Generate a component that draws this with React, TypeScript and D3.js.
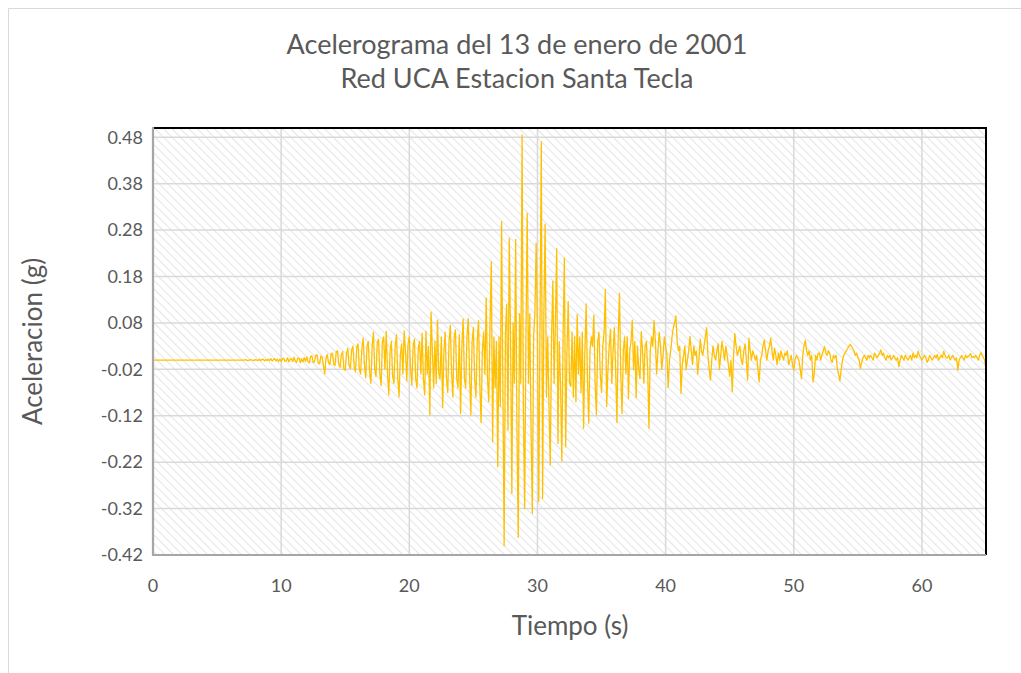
import * as d3 from "d3";

// sampling interval of the record (s)
const dt = 0.1;

// acceleration (g), one value every dt seconds from t = 0 to 65 s (one row per second)
const accel: number[] = [
  0, 0, 0, 0, 0, 0, 0, 0, 0, 0,
  0, 0, 0, 0, 0, 0, 0, 0, 0, 0,
  0, 0, 0, 0, 0, 0, 0, 0, 0, 0,
  0, 0, 0, 0, 0, 0, 0, 0, 0, 0,
  0, 0, 0, 0, 0, 0, 0, 0, 0, 0,
  0, 0, 0, 0, 0, 0, 0, 0, 0, 0,
  0, 0, 0, 0, 0, 0, 0, 0, 0, 0,
  0, 0, 0.001, 0, -0.001, 0, 0.001, 0, 0, -0.001,
  0.001, 0, -0.001, 0.002, -0.001, 0.001, 0.002, -0.002, 0.001, -0.001,
  0.002, -0.001, 0.003, -0.002, 0.001, 0.003, -0.002, 0.002, -0.003, 0.002,
  -0.003, 0.002, 0.004, -0.003, -0.002, 0.005, -0.004, 0.002, 0.003, -0.003,
  0.006, -0.002, -0.005, 0.004, 0.004, -0.006, 0.003, -0.004, 0.005, -0.003,
  0.007, -0.004, -0.006, 0.008, 0.009, -0.005, -0.004, 0.01, 0.011, -0.007,
  -0.008, 0.009, 0.006, -0.012, -0.03, 0.004, 0.012, -0.006, -0.01, 0.014,
  0.015, -0.008, -0.012, 0.018, 0.02, -0.01, -0.016, 0.012, 0.018, -0.02,
  -0.022, 0.015, 0.025, -0.012, -0.018, 0.022, 0.03, -0.015, -0.025, 0.028,
  0.035, -0.02, -0.03, 0.025, 0.047, -0.01, -0.038, 0.03, 0.04, -0.025,
  -0.05, 0.03, 0.06, -0.02, -0.035, 0.038, 0.045, -0.03, -0.055, 0.04,
  0.05, -0.02, 0.062, -0.03, -0.075, 0.02, 0.04, -0.035, -0.05, 0.03,
  0.055, -0.04, -0.079, 0.01, 0.035, -0.03, 0.063, 0.02, -0.045, 0.035,
  0.05, -0.02, -0.054, 0.03, 0.045, -0.04, -0.06, 0.025, 0.04, -0.03,
  0.058, -0.04, -0.075, 0.062, -0.03, 0.03, -0.118, 0.103, 0.02, -0.06,
  0.04, -0.05, 0.086, -0.03, -0.04, 0.05, -0.102, 0.02, 0.06, -0.04,
  -0.07, 0.04, 0.075, -0.03, -0.08, 0.05, 0.065, -0.04, -0.06, 0.055,
  -0.115, 0.03, 0.088, -0.04, -0.06, 0.05, 0.09, -0.03, -0.118, 0.04,
  0.07, -0.04, -0.08, 0.04, 0.085, -0.05, -0.135, 0.02, 0.06, -0.03,
  0.134, -0.04, -0.09, 0.08, 0.212, -0.176, 0.05, -0.06, 0.04, -0.23,
  0.05, -0.1, 0.298, -0.05, -0.4, 0.06, 0.12, -0.15, 0.262, 0.05,
  -0.287, 0.08, -0.05, 0.26, -0.15, -0.382, 0.1, -0.05, 0.485, -0.1,
  -0.32, 0.05, 0.316, -0.05, 0.1, -0.15, -0.33, 0.05, 0.1, 0.252,
  0.05, -0.305, 0.08, 0.47, -0.298, 0.1, 0.293, -0.08, 0.05, -0.1,
  -0.226, 0.05, 0.17, -0.05, 0.08, 0.24, -0.18, 0.04, -0.05, -0.217,
  0.05, 0.22, -0.187, 0.02, 0.126, -0.05, -0.057, 0.06, -0.08, 0.05,
  -0.09, 0.098, -0.03, 0.05, -0.07, 0.06, -0.147, 0.02, 0.121, -0.04,
  -0.136, 0.02, 0.05, 0.03, 0.097, -0.05, -0.118, 0.04, 0.06, -0.03,
  -0.07, 0.03, 0.06, 0.152, -0.1, -0.02, 0.03, 0.066, -0.05, 0.02,
  0.07, -0.02, -0.135, 0.05, 0.144, -0.03, -0.115, 0.02, 0.05, -0.03,
  0.05, -0.083, 0.02, 0.04, 0.086, -0.02, 0.04, -0.081, 0.03, -0.02,
  -0.04, 0.061, 0.02, -0.05, 0.03, 0.04, -0.02, -0.147, 0.02, 0.05,
  0.03, 0.085, 0.04, -0.03, 0.02, 0.06, 0.03, -0.02, 0.01, 0.05,
  0.03, 0.01, -0.059, 0.0, 0.02, 0.05, 0.07, 0.08, 0.095, 0.04,
  0.02, 0.03, -0.072, -0.01, 0.01, 0.03, -0.02, 0.0, 0.02, 0.051,
  0.02, -0.01, 0.03, 0.01, 0.02, -0.03, 0.0, 0.045, 0.02, 0.01,
  0.03, 0.05, 0.07, 0.01, -0.02, -0.043, 0.0, 0.03, 0.01, 0.0,
  0.02, 0.035, -0.02, 0.01, 0.04, 0.02, 0.0, 0.03, 0.01, -0.01,
  -0.035, 0.0, -0.068, 0.01, 0.057, 0.03, 0.01, 0.02, 0.03, 0.0,
  -0.01, 0.02, 0.035, 0.0, -0.043, 0.047, 0.02, 0.0, 0.02, 0.01,
  0.0, 0.01, -0.02, -0.047, 0.0, 0.01, 0.03, 0.043, 0.02, 0.0,
  0.02, 0.03, 0.047, 0.02, 0.0, 0.025, 0.01, -0.01, 0.015, 0.0,
  0.02, 0.01, 0.0, 0.015, 0.01, 0.02, -0.01, 0.0, 0.01, -0.01,
  -0.022, 0.0, 0.01, 0.005, 0.0, -0.02, -0.04, 0.01, 0.03, 0.043,
  0.02, 0.01, 0.02, 0.0, 0.01, -0.047, -0.03, 0.01, 0.0, 0.015,
  0.015, 0.0, 0.01, 0.02, 0.029, 0.015, 0.01, 0.02, 0.015, 0.0,
  -0.005, 0.01, 0.005, 0.01, -0.02, -0.03, -0.045, -0.02, 0.0, 0.01,
  0.015, 0.02, 0.025, 0.03, 0.034, 0.03, 0.025, 0.02, 0.01, 0.015,
  0.005, 0.0, -0.018, -0.005, 0.005, 0.01, 0.005, 0.0, 0.01, 0.005,
  0.01, 0.005, 0.0, 0.015, 0.01, 0.005, 0.01, 0.015, 0.022, 0.01,
  0.015, 0.005, 0.0, 0.01, 0.005, 0.01, 0.0, 0.005, 0.01, 0.005,
  0.0, 0.005, -0.014, 0.0, 0.01, 0.005, 0.0, 0.01, 0.005, 0.0,
  0.005, 0.01, 0.0, 0.015, 0.005, 0.01, 0.005, 0.019, 0.01, 0.005,
  0.0, 0.005, 0.01, 0.005, -0.005, 0.0, 0.01, 0.005, 0.0, 0.005,
  0.01, 0.005, 0.012, 0.0, 0.005, 0.01, 0.005, 0.019, 0.01, 0.005,
  0.005, 0.01, 0.0, 0.005, 0.01, 0.005, 0.0, 0.005, -0.022, 0.0,
  0.005, 0.01, 0.005, 0.0, 0.01, 0.005, 0.008, 0.01, 0.014, 0.005,
  0.008, 0.005, 0.01, 0.005, 0.0, 0.01, 0.016, 0.01, 0.005, 0.0,
  -0.022,
];

const yTicks = [0.48, 0.38, 0.28, 0.18, 0.08, -0.02, -0.12, -0.22, -0.32, -0.42];
const xTicks = [0, 10, 20, 30, 40, 50, 60];

const W = 1021;
const H = 673;
const left = 153;
const right = 986;
const top = 128;
const bottom = 555;

const font = "Lato, 'Open Sans', sans-serif";
const grey = "#595959";

export default function App() {
  const x = d3.scaleLinear().domain([0, 65]).range([left, right]);
  const y = d3.scaleLinear().domain([-0.42, 0.5]).range([bottom, top]);

  const line = d3
    .line<number>()
    .x((_, i) => x(i * dt))
    .y((d) => y(d));

  return (
    <svg
      width={W}
      height={H}
      style={{ position: "absolute", left: 0, top: 0, background: "#fff" }}
    >
      <defs>
        <pattern
          id="hatch"
          patternUnits="userSpaceOnUse"
          width={6}
          height={6}
          patternTransform="rotate(-45)"
        >
          <line x1={0} y1={0} x2={0} y2={6} stroke="#e6e6e6" strokeWidth={2.2} />
        </pattern>
      </defs>

      {/* chart area border */}
      <line x1={8.5} y1={8.5} x2={W} y2={8.5} stroke="#d9d9d9" />
      <line x1={8.5} y1={8.5} x2={8.5} y2={H} stroke="#d9d9d9" />

      <text x={517} y={54} textAnchor="middle" fontFamily={font} fontSize={27} fill={grey}>
        Acelerograma del 13 de enero de 2001
      </text>
      <text x={517} y={88} textAnchor="middle" fontFamily={font} fontSize={27} fill={grey}>
        Red UCA Estacion Santa Tecla
      </text>

      <rect x={left} y={top} width={right - left} height={bottom - top} fill="#fff" />
      <rect x={left} y={top} width={right - left} height={bottom - top} fill="url(#hatch)" />

      {/* gridlines */}
      {yTicks.map((t) => (
        <line key={"gy" + t} x1={left} x2={right} y1={y(t)} y2={y(t)} stroke="#d9d9d9" strokeWidth={1.5} />
      ))}
      {xTicks.map((t) => (
        <line key={"gx" + t} x1={x(t)} x2={x(t)} y1={top} y2={bottom} stroke="#d9d9d9" strokeWidth={1.5} />
      ))}

      <path d={line(accel) ?? ""} fill="none" stroke="#FFC000" strokeWidth={1.3} strokeLinejoin="round" />

      {/* plot frame */}
      <line x1={left} x2={right + 1} y1={top} y2={top} stroke="#000" strokeWidth={2} />
      <line x1={right} x2={right} y1={top} y2={bottom} stroke="#000" strokeWidth={2} />
      <line x1={left} x2={left} y1={top - 1} y2={bottom + 1} stroke="#a6a6a6" strokeWidth={2.2} />
      <line x1={left} x2={right} y1={bottom} y2={bottom} stroke="#a6a6a6" strokeWidth={2.2} />

      {yTicks.map((t) => (
        <text
          key={"ty" + t}
          x={143}
          y={y(t)}
          dy="0.35em"
          textAnchor="end"
          fontFamily={font}
          fontSize={18}
          fill={grey}
        >
          {t.toFixed(2)}
        </text>
      ))}
      {xTicks.map((t) => (
        <text
          key={"tx" + t}
          x={x(t)}
          y={592}
          textAnchor="middle"
          fontFamily={font}
          fontSize={18}
          fill={grey}
        >
          {t}
        </text>
      ))}

      <text x={570} y={635} textAnchor="middle" fontFamily={font} fontSize={26} fill={grey}>
        Tiempo (s)
      </text>
      <text
        transform={`translate(42,${(top + bottom) / 2}) rotate(-90)`}
        textAnchor="middle"
        fontFamily={font}
        fontSize={26}
        fill={grey}
      >
        Aceleracion (g)
      </text>
    </svg>
  );
}
